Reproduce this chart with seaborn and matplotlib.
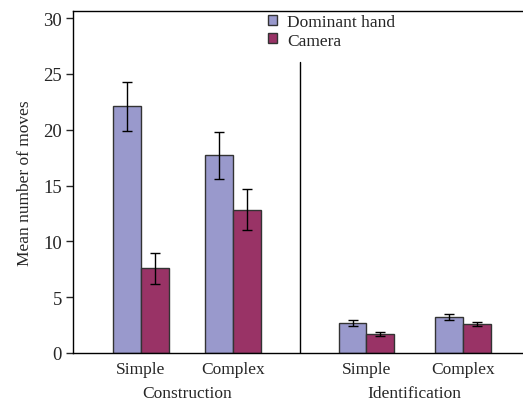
import numpy as np
import pandas as pd
import matplotlib
matplotlib.use("Agg")
import matplotlib.pyplot as plt
import seaborn as sns
from matplotlib.patches import Patch

# Data
tasks = ["Construction", "Construction", "Identification", "Identification"]
complexity = ["Simple", "Complex", "Simple", "Complex"]
dominant_mean = [22.1, 17.7, 2.7, 3.2]
dominant_err = [2.2, 2.1, 0.3, 0.27]
camera_mean = [7.6, 12.85, 1.7, 2.6]
camera_err = [1.4, 1.8, 0.15, 0.17]
conditions = ["Dominant hand", "Camera"]
colors = ["#9999CC", "#993366"]

# Layout: groups are not evenly spaced in the original
group_pos = [0.0, 1.0, 2.45, 3.5]

sns.set_style("white")
plt.rcParams["font.family"] = ["Liberation Serif", "DejaVu Serif"]
plt.rcParams["font.size"] = 12.5

df = pd.DataFrame({
    "pos": group_pos * 2,
    "condition": [conditions[0]] * 4 + [conditions[1]] * 4,
    "mean": dominant_mean + camera_mean,
})

fig = plt.figure(figsize=(5.23, 4.02), dpi=100)
ax = fig.add_axes([73 / 523, 48 / 402, 1 - 73 / 523, (354 - 12) / 402])

sns.barplot(data=df, x="pos", y="mean", hue="condition", hue_order=conditions,
            palette=colors, native_scale=True, width=0.6, errorbar=None,
            edgecolor="#333333", linewidth=1, saturation=1, ax=ax, legend=False)

# Error bars on top of each bar
for bars, errs in zip(ax.containers, [dominant_err, camera_err]):
    for bar, err in zip(bars, errs):
        cx = bar.get_x() + bar.get_width() / 2
        ax.errorbar(cx, bar.get_height(), yerr=err, fmt="none", ecolor="black",
                    elinewidth=1, capsize=3.3, capthick=1)

ax.set_ylim(0, 30.63)
ax.set_xlim(-0.739, 4.152)
ax.set_yticks([0, 5, 10, 15, 20, 25, 30])
ax.set_xticks(group_pos)
ax.set_xticklabels(complexity)
ax.tick_params(axis="x", length=0, pad=6)
ax.tick_params(axis="y", length=5, width=1, pad=3, left=True, direction="out",
               labelsize=13.5)
ax.set_xlabel("")
ax.set_ylabel("Mean number of moves", labelpad=7)

for side in ["left", "top", "bottom"]:
    ax.spines[side].set_color("black")
    ax.spines[side].set_linewidth(1)
ax.spines["right"].set_visible(False)

# Divider between the two task groups
divider = (group_pos[1] + group_pos[2]) / 2
ax.axvline(divider, ymin=0, ymax=26.1 / 30.63, color="black", linewidth=1)

# Task labels under the tick labels
for name, a, b in [("Construction", group_pos[0], group_pos[1]),
                   ("Identification", group_pos[2], group_pos[3])]:
    ax.annotate(name, xy=((a + b) / 2, 0), xycoords=("data", "axes fraction"),
                xytext=(0, -29), textcoords="offset points",
                ha="center", va="center")

handles = [Patch(facecolor=c, edgecolor="#333333", linewidth=1) for c in colors]
fig.legend(handles, conditions, loc="upper left",
           bbox_to_anchor=(268 / 523, 1 - 15 / 402), frameon=False,
           handlelength=0.5, handleheight=0.5, handletextpad=0.6,
           borderpad=0, borderaxespad=0, labelspacing=0.15)

fig.savefig("out.png", dpi=100)
